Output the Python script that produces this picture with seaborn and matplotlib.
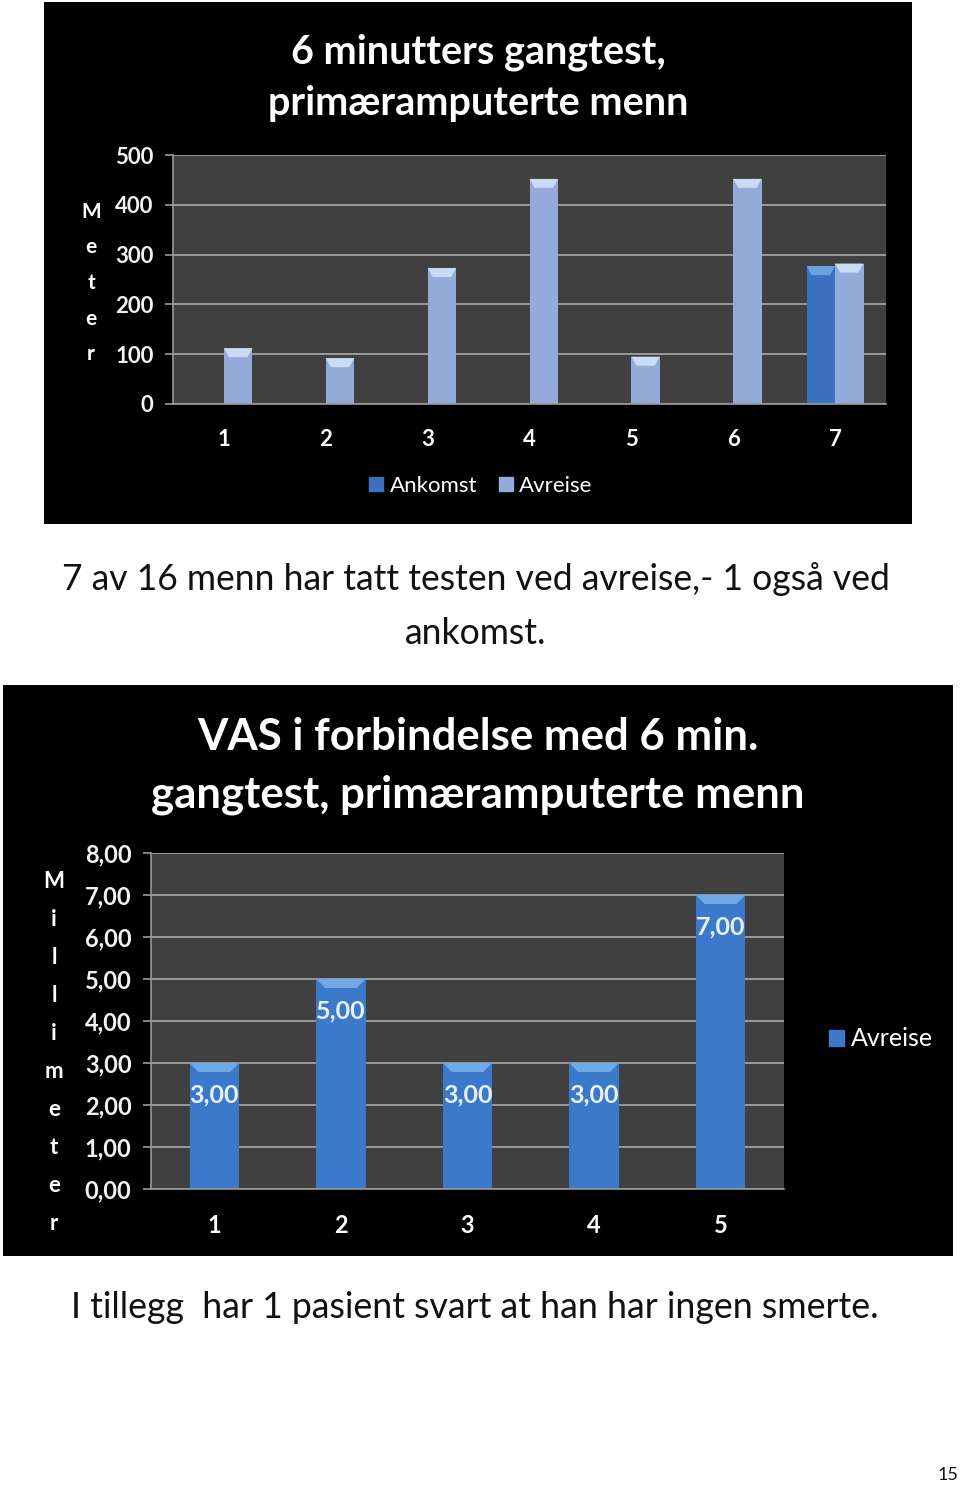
import numpy as np
import pandas as pd
import matplotlib.pyplot as plt
from matplotlib.patches import Rectangle, Patch, Polygon
from matplotlib.ticker import FuncFormatter
import seaborn as sns

sns.set_theme(style="white")
plt.rcParams['font.family'] = ['Lato', 'DejaVu Sans']

# chart 1: 6 minutters gangtest (meter)
patients1 = ['1', '2', '3', '4', '5', '6', '7']
avreise1 = [112, 92, 273, 452, 95, 452, 282]
ankomst_patients = ['7']
ankomst1 = [277]

# chart 2: VAS (millimeter), only avreise
patients2 = ['1', '2', '3', '4', '5']
vas_avreise = [3.0, 5.0, 3.0, 3.0, 7.0]

df1 = pd.concat([
    pd.DataFrame({'pasient': ankomst_patients, 'verdi': ankomst1, 'test': 'Ankomst'}),
    pd.DataFrame({'pasient': patients1, 'verdi': avreise1, 'test': 'Avreise'}),
])
df2 = pd.DataFrame({'pasient': patients2, 'verdi': vas_avreise, 'test': 'Avreise'})

col_ank, col_avr, col_vas = '#3a72bf', '#92abd9', '#3b79ca'
cap_col = {col_ank: '#6fa3e0', col_avr: '#c9dbf5', col_vas: '#70a8e8'}

W, H = 960, 1485
fig = plt.figure(figsize=(W / 100, H / 100), dpi=100, facecolor='white')


def box(x0, y0, x1, y1):
    # pixel box (top-left origin) -> figure fraction rect
    return [x0 / W, 1 - y1 / H, (x1 - x0) / W, (y1 - y0) / H]


def black_panel(x0, y0, x1, y1):
    l, b, w, h = box(x0, y0, x1, y1)
    fig.add_artist(Rectangle((l, b), w, h, transform=fig.transFigure,
                             facecolor='black', edgecolor='none', zorder=0))


def style_axes(ax, n, ysize):
    ax.set_facecolor('#404040')
    for s in ['top', 'right']:
        ax.spines[s].set_visible(False)
    for s in ['left', 'bottom']:
        ax.spines[s].set_color('#9a9a9a')
        ax.spines[s].set_linewidth(1.2)
    ax.yaxis.grid(True, color='#a8a8a8', linewidth=1.2)
    ax.set_axisbelow(True)
    ax.set_xlim(-0.5, n - 0.5)
    ax.set_xticks(np.arange(-0.5, n, 1), minor=True)
    ax.tick_params(axis='x', which='major', length=0, pad=18,
                   labelcolor='white', labelsize=ysize)
    ax.tick_params(axis='x', which='minor', length=6, width=1.2, color='#9a9a9a')
    ax.tick_params(axis='y', length=6, width=1.2, color='#9a9a9a',
                   labelcolor='#f2f2f2', labelsize=ysize, pad=8, left=True)
    for lab in ax.get_xticklabels() + ax.get_yticklabels():
        lab.set_fontweight('bold')
    ax.set_xlabel('')
    ax.set_ylabel('')


def bevel_caps(ax, cap_px=9):
    # lighter bevelled top on each bar, like the office chart style
    ax_h = ax.get_window_extent().height
    y0, y1 = ax.get_ylim()
    dy = cap_px / ax_h * (y1 - y0)
    for p in ax.patches:
        h = p.get_height()
        if not np.isfinite(h) or h <= 0:
            continue
        x, w = p.get_x(), p.get_width()
        fc = p.get_facecolor()
        hexc = '#%02x%02x%02x' % tuple(int(round(c * 255)) for c in fc[:3])
        cc = cap_col.get(hexc, 'white')
        ins = w * 0.18
        ax.add_patch(Polygon([(x, h), (x + w, h), (x + w - ins, h - dy),
                              (x + ins, h - dy)], closed=True,
                             facecolor=cc, edgecolor='none', zorder=3))


# ---------------- chart 1 ----------------
black_panel(44, 2, 912, 524)
ax1 = fig.add_axes(box(173, 155, 886, 404))
sns.barplot(data=df1, x='pasient', y='verdi', hue='test', order=patients1,
            hue_order=['Ankomst', 'Avreise'],
            palette={'Ankomst': col_ank, 'Avreise': col_avr},
            width=0.56, saturation=1, errorbar=None, legend=False,
            linewidth=0, edgecolor='none', ax=ax1)
ax1.set_ylim(0, 500)
ax1.set_yticks([0, 100, 200, 300, 400, 500])
style_axes(ax1, len(patients1), 16)
bevel_caps(ax1)

fig.text(478 / W, 1 - 52 / H, '6 minutters gangtest,', ha='center',
         va='center', color='white', fontsize=28.5, fontweight='bold')
fig.text(478 / W, 1 - 103 / H, 'primæramputerte menn', ha='center',
         va='center', color='white', fontsize=28.5, fontweight='bold')
fig.text(91 / W, 1 - 283 / H, 'M\ne\nt\ne\nr', ha='center', va='center',
         color='white', fontsize=15, fontweight='bold', linespacing=1.98)
fig.legend(handles=[Patch(color=col_ank, label='Ankomst'),
                    Patch(color=col_avr, label='Avreise')],
           loc='center', bbox_to_anchor=(481 / W, 1 - 486 / H), ncol=2,
           frameon=False, labelcolor='white', prop={'size': 16},
           handlelength=0.6, handleheight=0.6, handletextpad=0.3,
           columnspacing=1.0)

# ---------------- text between ----------------
fig.text(476 / W, 1 - 579 / H,
         '7 av 16 menn har tatt testen ved avreise,- 1 også ved',
         ha='center', va='center', color='#111111', fontsize=25.6)
fig.text(476 / W, 1 - 634 / H, 'ankomst.', ha='center', va='center',
         color='#111111', fontsize=25.6)

# ---------------- chart 2 ----------------
black_panel(3, 685, 953, 1256)
ax2 = fig.add_axes(box(151, 853, 784, 1189))
sns.barplot(data=df2, x='pasient', y='verdi', hue='test', order=patients2,
            palette={'Avreise': col_vas}, width=0.39, saturation=1,
            errorbar=None, legend=False, linewidth=0, edgecolor='none', ax=ax2)
ax2.set_ylim(0, 8)
ax2.set_yticks(np.arange(0, 9, 1))
ax2.yaxis.set_major_formatter(FuncFormatter(lambda v, p: f'{v:.2f}'.replace('.', ',')))
style_axes(ax2, len(patients2), 17)
bar_container = ax2.containers[0]
bevel_caps(ax2)
ax2.bar_label(bar_container,
              labels=[f'{v:.2f}'.replace('.', ',') for v in vas_avreise],
              padding=-31, color='#e8f2ff', fontsize=18, fontweight='bold')

fig.text(478 / W, 1 - 737 / H, 'VAS i forbindelse med 6 min.', ha='center',
         va='center', color='white', fontsize=31.5, fontweight='bold')
fig.text(478 / W, 1 - 795 / H, 'gangtest, primæramputerte menn', ha='center',
         va='center', color='white', fontsize=31.5, fontweight='bold')
fig.text(54 / W, 1 - 1052 / H, 'M\ni\nl\nl\ni\nm\ne\nt\ne\nr', ha='center',
         va='center', color='white', fontsize=16, fontweight='bold',
         linespacing=2.0)
fig.legend(handles=[Patch(color=col_vas, label='Avreise')],
           loc='center left', bbox_to_anchor=(806 / W, 1 - 1039 / H),
           frameon=False, labelcolor='white', prop={'size': 18},
           handlelength=0.6, handleheight=0.6, handletextpad=0.3)

# ---------------- text below ----------------
fig.text(475 / W, 1 - 1308 / H,
         'I tillegg  har 1 pasient svart at han har ingen smerte.',
         ha='center', va='center', color='#111111', fontsize=25.7)
fig.text(948 / W, 1 - 1475 / H, '15', ha='center', va='center',
         color='#111111', fontsize=13)

fig.savefig('out.png', dpi=100, facecolor='white')
